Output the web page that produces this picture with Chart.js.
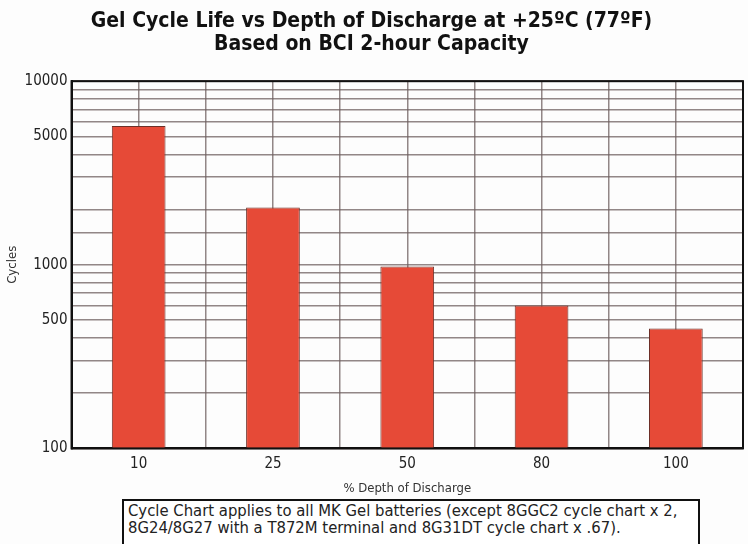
<!DOCTYPE html>
<html>
<head>
<meta charset="utf-8">
<script src="https://cdn.jsdelivr.net/npm/chart.js@4"></script>
<style>
  html, body { margin: 0; padding: 0; background: #fdfdfd; }
  #wrap { position: relative; width: 748px; height: 544px; }
  #note {
    position: absolute; left: 122px; top: 499px; width: 566px; height: 60px;
    border: 2px solid #111; background: #fff; white-space: nowrap; overflow: hidden;
    font-family: "DejaVu Sans Condensed", "Liberation Sans Narrow", Roboto, sans-serif;
    font-size: 16.5px; line-height: 17px; color: #222; padding: 1px 4px;
  }
</style>
</head>
<body>
<div id="wrap">
  <canvas id="chart" width="748" height="544"></canvas>
  <div id="note">Cycle Chart applies to all MK Gel batteries (except 8GGC2 cycle chart x 2,<br>8G24/8G27 with a T872M terminal and 8G31DT cycle chart x .67).</div>
</div>
<script>
const depths = ["10", "25", "50", "80", "100"];
const cycles = [5700, 2050, 980, 600, 450];
const labelledTicks = [100, 500, 1000, 5000, 10000];

const font = "'DejaVu Sans Condensed', 'Liberation Sans Narrow', Roboto, sans-serif";
const gridColor = "rgba(110, 95, 95, 0.75)";

// black frame round the plot area
const frame = {
  id: "frame",
  afterDraw(chart) {
    const { ctx, chartArea: a } = chart;
    ctx.save();
    ctx.strokeStyle = "#111";
    ctx.lineWidth = 2;
    ctx.strokeRect(a.left, a.top, a.right - a.left, a.bottom - a.top);
    ctx.restore();
  }
};

new Chart(document.getElementById("chart"), {
  type: "bar",
  data: {
    labels: depths,
    datasets: [{
      label: "Cycles",
      data: cycles,
      backgroundColor: "#e64a37",
      borderColor: "#6b3028",
      borderWidth: 1,
      barPercentage: 0.4,
      categoryPercentage: 1.0,
    }],
  },
  options: {
    responsive: false,
    animation: false,
    layout: { padding: { left: 0, right: 5, top: 0, bottom: 48 } },
    plugins: {
      legend: { display: false },
      tooltip: { enabled: false },
      title: {
        display: true,
        text: ["Gel Cycle Life vs Depth of Discharge at +25ºC (77ºF)", "Based on BCI 2-hour Capacity"],
        color: "#111",
        font: { family: font, size: 21, weight: "bold", lineHeight: 1.1 },
        padding: { top: 10, bottom: 25 },
      },
    },
    scales: {
      x: {
        grid: { color: gridColor, lineWidth: 1.5, drawTicks: false },
        border: { color: "#111", width: 2 },
        ticks: { color: "#222", font: { family: font, size: 15 }, padding: 7 },
        title: {
          display: true, text: "% Depth of Discharge", color: "#333",
          font: { family: font, size: 13 }, padding: { top: 0, bottom: 0 },
        },
      },
      x2: {
        type: "category",
        labels: depths,
        position: "bottom",
        offset: true,
        grid: { offset: false, color: gridColor, lineWidth: 1.5, drawTicks: false },
        border: { display: false },
        ticks: { display: false },
      },
      y: {
        type: "logarithmic",
        min: 100,
        max: 10000,
        grid: { color: gridColor, lineWidth: 1.5, drawTicks: false },
        border: { color: "#111", width: 2 },
        ticks: {
          autoSkip: false,
          color: "#222",
          font: { family: font, size: 15 },
          padding: 4,
          callback: (v) => labelledTicks.includes(v) ? String(v) : "",
        },
        title: {
          display: true, text: "Cycles", color: "#333",
          font: { family: font, size: 13 }, padding: { top: 5, bottom: 0 },
        },
      },
    },
  },
  plugins: [frame],
});
</script>
</body>
</html>
